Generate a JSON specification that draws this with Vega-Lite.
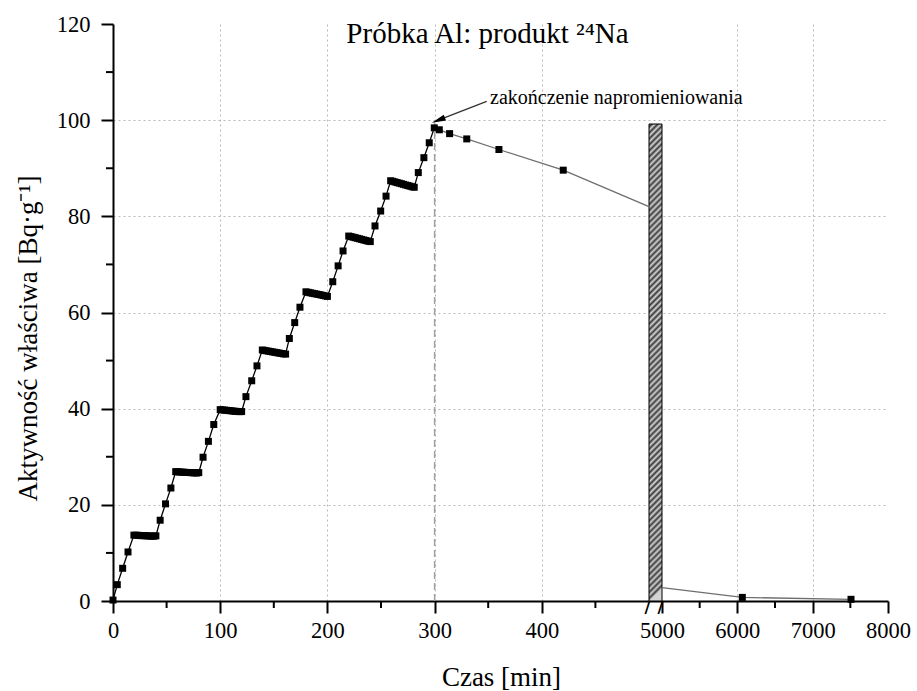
{
  "$schema": "https://vega.github.io/schema/vega-lite/v6.json",
  "width": 775,
  "height": 577,
  "autosize": "none",
  "padding": {"left": 113, "top": 24, "right": 29, "bottom": 90},
  "background": "white",
  "config": {
    "font": "Liberation Serif",
    "view": {"stroke": null},
    "axis": {"labelFont": "Liberation Serif", "titleFont": "Liberation Serif", "titleColor": "#000", "titleFontWeight": "normal", "labelFlush": false, "labelOverlap": false}
  },
  "datasets": {
    "act": [
      {"t": 0, "a": 0.2, "s": "a"}, {"t": 4, "a": 3.4, "s": "a"}, {"t": 9, "a": 6.8, "s": "a"}, {"t": 14, "a": 10.2, "s": "a"}, {"t": 19.5, "a": 13.7, "s": "a"},
      {"t": 22, "a": 13.68, "s": "a"}, {"t": 24, "a": 13.65, "s": "a"}, {"t": 26, "a": 13.6, "s": "a"}, {"t": 28, "a": 13.6, "s": "a"}, {"t": 30, "a": 13.57, "s": "a"}, {"t": 32, "a": 13.55, "s": "a"}, {"t": 34, "a": 13.52, "s": "a"}, {"t": 36, "a": 13.5, "s": "a"}, {"t": 38, "a": 13.48, "s": "a"}, {"t": 40, "a": 13.55, "s": "a"},
      {"t": 44, "a": 16.8, "s": "a"}, {"t": 49, "a": 20.2, "s": "a"}, {"t": 54, "a": 23.5, "s": "a"}, {"t": 58.5, "a": 26.9, "s": "a"},
      {"t": 60, "a": 26.88, "s": "a"}, {"t": 62, "a": 26.84, "s": "a"}, {"t": 64, "a": 26.8, "s": "a"}, {"t": 66, "a": 26.78, "s": "a"}, {"t": 68, "a": 26.75, "s": "a"}, {"t": 70, "a": 26.72, "s": "a"}, {"t": 72, "a": 26.7, "s": "a"}, {"t": 74, "a": 26.68, "s": "a"}, {"t": 76, "a": 26.65, "s": "a"}, {"t": 78, "a": 26.62, "s": "a"}, {"t": 80, "a": 26.7, "s": "a"},
      {"t": 84, "a": 29.9, "s": "a"}, {"t": 89, "a": 33.2, "s": "a"}, {"t": 94, "a": 36.7, "s": "a"}, {"t": 100, "a": 39.8, "s": "a"},
      {"t": 102, "a": 39.75, "s": "a"}, {"t": 104, "a": 39.7, "s": "a"}, {"t": 106, "a": 39.66, "s": "a"}, {"t": 108, "a": 39.6, "s": "a"}, {"t": 110, "a": 39.56, "s": "a"}, {"t": 112, "a": 39.5, "s": "a"}, {"t": 114, "a": 39.46, "s": "a"}, {"t": 116, "a": 39.42, "s": "a"}, {"t": 118, "a": 39.38, "s": "a"}, {"t": 120, "a": 39.4, "s": "a"},
      {"t": 124, "a": 42.5, "s": "a"}, {"t": 129.4, "a": 45.8, "s": "a"}, {"t": 134.3, "a": 48.9, "s": "a"}, {"t": 139.3, "a": 52.2, "s": "a"},
      {"t": 141, "a": 52.12, "s": "a"}, {"t": 143, "a": 52.04, "s": "a"}, {"t": 145, "a": 51.96, "s": "a"}, {"t": 147, "a": 51.88, "s": "a"}, {"t": 149, "a": 51.8, "s": "a"}, {"t": 151, "a": 51.72, "s": "a"}, {"t": 153, "a": 51.64, "s": "a"}, {"t": 155, "a": 51.56, "s": "a"}, {"t": 157, "a": 51.48, "s": "a"}, {"t": 159, "a": 51.4, "s": "a"}, {"t": 161, "a": 51.35, "s": "a"},
      {"t": 164.5, "a": 54.6, "s": "a"}, {"t": 169.5, "a": 57.9, "s": "a"}, {"t": 174.4, "a": 61.1, "s": "a"}, {"t": 180, "a": 64.3, "s": "a"},
      {"t": 182, "a": 64.2, "s": "a"}, {"t": 184, "a": 64.1, "s": "a"}, {"t": 186, "a": 64.0, "s": "a"}, {"t": 188, "a": 63.92, "s": "a"}, {"t": 190, "a": 63.83, "s": "a"}, {"t": 192, "a": 63.74, "s": "a"}, {"t": 194, "a": 63.65, "s": "a"}, {"t": 196, "a": 63.55, "s": "a"}, {"t": 198, "a": 63.45, "s": "a"}, {"t": 200, "a": 63.35, "s": "a"},
      {"t": 205, "a": 66.4, "s": "a"}, {"t": 210, "a": 69.7, "s": "a"}, {"t": 214.6, "a": 72.8, "s": "a"}, {"t": 219.9, "a": 75.9, "s": "a"},
      {"t": 222, "a": 75.78, "s": "a"}, {"t": 224, "a": 75.66, "s": "a"}, {"t": 226, "a": 75.55, "s": "a"}, {"t": 228, "a": 75.43, "s": "a"}, {"t": 230, "a": 75.32, "s": "a"}, {"t": 232, "a": 75.2, "s": "a"}, {"t": 234, "a": 75.08, "s": "a"}, {"t": 236, "a": 74.96, "s": "a"}, {"t": 238, "a": 74.84, "s": "a"}, {"t": 240, "a": 74.75, "s": "a"},
      {"t": 244.4, "a": 78.0, "s": "a"}, {"t": 249.7, "a": 81.1, "s": "a"}, {"t": 254.7, "a": 84.2, "s": "a"}, {"t": 259, "a": 87.4, "s": "a"},
      {"t": 261, "a": 87.28, "s": "a"}, {"t": 263, "a": 87.15, "s": "a"}, {"t": 265, "a": 87.02, "s": "a"}, {"t": 267, "a": 86.9, "s": "a"}, {"t": 269, "a": 86.78, "s": "a"}, {"t": 271, "a": 86.65, "s": "a"}, {"t": 273, "a": 86.52, "s": "a"}, {"t": 275, "a": 86.4, "s": "a"}, {"t": 277, "a": 86.28, "s": "a"}, {"t": 279, "a": 86.15, "s": "a"}, {"t": 281, "a": 86.05, "s": "a"},
      {"t": 284.8, "a": 89.1, "s": "a"}, {"t": 290, "a": 92.2, "s": "a"}, {"t": 295, "a": 95.3, "s": "a"}, {"t": 299.7, "a": 98.4, "s": "a"},
      {"t": 299.7, "a": 98.4, "s": "b", "p": 0}, {"t": 304.4, "a": 98.0, "s": "b"}, {"t": 314, "a": 97.2, "s": "b"}, {"t": 330, "a": 96.1, "s": "b"}, {"t": 360, "a": 93.9, "s": "b"}, {"t": 420, "a": 89.6, "s": "b"}, {"t": 500, "a": 82.0, "s": "b", "p": 0},
      {"t": 5000, "a": 2.8, "s": "c", "p": 0}, {"t": 6066, "a": 0.75, "s": "c"}, {"t": 7509, "a": 0.35, "s": "c"}
    ]
  },
  "data": {"name": "act"},
  "encoding": {
    "x": {"field": "t", "type": "quantitative",
      "scale": {"type": "linear", "domain": [0, 500, 5000, 8000], "range": [0, 536, 549, 775], "nice": false, "zero": false},
      "axis": {"orient": "bottom", "values": [0, 100, 200, 300, 400, 5000, 6000, 7000, 8000], "format": "d", "ticks": true, "tickSize": 12, "tickWidth": 2, "tickColor": "#000", "domainWidth": 2, "domainColor": "#000", "labelColor": "#000", "labelFont": "Liberation Serif", "labelFontSize": 22.5, "labelPadding": 6,
        "grid": true, "gridColor": "#b8b8b8", "gridDash": [2, 3], "gridWidth": 1,
        "gridOpacity": {"condition": {"test": "datum.value == 0 || datum.value == 5000 || datum.value == 8000", "value": 0}, "value": 1},
        "title": "Czas [min]", "titleFont": "Liberation Serif", "titleFontSize": 27, "titleX": 388, "titleY": 84, "titleBaseline": "alphabetic", "titleAlign": "center"}},
    "y": {"field": "a", "type": "quantitative",
      "scale": {"domain": [0, 120], "nice": false, "zero": true},
      "axis": {"orient": "left", "values": [0, 20, 40, 60, 80, 100, 120], "format": "d", "ticks": true, "tickSize": 12, "tickWidth": 2, "tickColor": "#000", "domainWidth": 2, "domainColor": "#000", "labelColor": "#000", "labelFont": "Liberation Serif", "labelFontSize": 22.5, "labelPadding": 11,
        "grid": true, "gridColor": "#b8b8b8", "gridDash": [2, 3], "gridWidth": 1,
        "gridOpacity": {"condition": {"test": "datum.value == 0 || datum.value == 120", "value": 0}, "value": 1},
        "title": "Aktywność właściwa [Bq·g⁻¹]", "titleFont": "Liberation Serif", "titleFontSize": 27, "titleAngle": -90, "titleX": -84.5, "titleY": 314, "titleAlign": "center", "titleBaseline": "middle"}}
  },
  "layer": [
    {
      "data": {"values": [{"t": 300, "a": 0, "a2": 99.5}]},
      "mark": {"type": "rule", "color": "#a0a0a0", "strokeWidth": 1.5, "strokeDash": [7, 4]},
      "encoding": {"y2": {"field": "a2"}}
    },
    {
      "data": {"values": [{"t": 500, "t2": 5000, "a": 0, "a2": 99.2}]},
      "mark": {"type": "rect", "stroke": "#000", "strokeWidth": 1,
        "fill": {"gradient": "linear", "x1": 0, "y1": 0, "x2": 0.0273, "y2": 1, "stops": [
          {"offset": 0, "color": "#d4d4d4"}, {"offset": 0.00625, "color": "#3a3a3a"}, {"offset": 0.0125, "color": "#d4d4d4"}, {"offset": 0.01875, "color": "#3a3a3a"}, {"offset": 0.025, "color": "#d4d4d4"}, {"offset": 0.03125, "color": "#3a3a3a"}, {"offset": 0.0375, "color": "#d4d4d4"}, {"offset": 0.04375, "color": "#3a3a3a"}, {"offset": 0.05, "color": "#d4d4d4"}, {"offset": 0.05625, "color": "#3a3a3a"}, {"offset": 0.0625, "color": "#d4d4d4"}, {"offset": 0.06875, "color": "#3a3a3a"}, {"offset": 0.075, "color": "#d4d4d4"}, {"offset": 0.08125, "color": "#3a3a3a"}, {"offset": 0.0875, "color": "#d4d4d4"}, {"offset": 0.09375, "color": "#3a3a3a"},
          {"offset": 0.1, "color": "#d4d4d4"}, {"offset": 0.10625, "color": "#3a3a3a"}, {"offset": 0.1125, "color": "#d4d4d4"}, {"offset": 0.11875, "color": "#3a3a3a"}, {"offset": 0.125, "color": "#d4d4d4"}, {"offset": 0.13125, "color": "#3a3a3a"}, {"offset": 0.1375, "color": "#d4d4d4"}, {"offset": 0.14375, "color": "#3a3a3a"}, {"offset": 0.15, "color": "#d4d4d4"}, {"offset": 0.15625, "color": "#3a3a3a"}, {"offset": 0.1625, "color": "#d4d4d4"}, {"offset": 0.16875, "color": "#3a3a3a"}, {"offset": 0.175, "color": "#d4d4d4"}, {"offset": 0.18125, "color": "#3a3a3a"}, {"offset": 0.1875, "color": "#d4d4d4"}, {"offset": 0.19375, "color": "#3a3a3a"},
          {"offset": 0.2, "color": "#d4d4d4"}, {"offset": 0.20625, "color": "#3a3a3a"}, {"offset": 0.2125, "color": "#d4d4d4"}, {"offset": 0.21875, "color": "#3a3a3a"}, {"offset": 0.225, "color": "#d4d4d4"}, {"offset": 0.23125, "color": "#3a3a3a"}, {"offset": 0.2375, "color": "#d4d4d4"}, {"offset": 0.24375, "color": "#3a3a3a"}, {"offset": 0.25, "color": "#d4d4d4"}, {"offset": 0.25625, "color": "#3a3a3a"}, {"offset": 0.2625, "color": "#d4d4d4"}, {"offset": 0.26875, "color": "#3a3a3a"}, {"offset": 0.275, "color": "#d4d4d4"}, {"offset": 0.28125, "color": "#3a3a3a"}, {"offset": 0.2875, "color": "#d4d4d4"}, {"offset": 0.29375, "color": "#3a3a3a"},
          {"offset": 0.3, "color": "#d4d4d4"}, {"offset": 0.30625, "color": "#3a3a3a"}, {"offset": 0.3125, "color": "#d4d4d4"}, {"offset": 0.31875, "color": "#3a3a3a"}, {"offset": 0.325, "color": "#d4d4d4"}, {"offset": 0.33125, "color": "#3a3a3a"}, {"offset": 0.3375, "color": "#d4d4d4"}, {"offset": 0.34375, "color": "#3a3a3a"}, {"offset": 0.35, "color": "#d4d4d4"}, {"offset": 0.35625, "color": "#3a3a3a"}, {"offset": 0.3625, "color": "#d4d4d4"}, {"offset": 0.36875, "color": "#3a3a3a"}, {"offset": 0.375, "color": "#d4d4d4"}, {"offset": 0.38125, "color": "#3a3a3a"}, {"offset": 0.3875, "color": "#d4d4d4"}, {"offset": 0.39375, "color": "#3a3a3a"},
          {"offset": 0.4, "color": "#d4d4d4"}, {"offset": 0.40625, "color": "#3a3a3a"}, {"offset": 0.4125, "color": "#d4d4d4"}, {"offset": 0.41875, "color": "#3a3a3a"}, {"offset": 0.425, "color": "#d4d4d4"}, {"offset": 0.43125, "color": "#3a3a3a"}, {"offset": 0.4375, "color": "#d4d4d4"}, {"offset": 0.44375, "color": "#3a3a3a"}, {"offset": 0.45, "color": "#d4d4d4"}, {"offset": 0.45625, "color": "#3a3a3a"}, {"offset": 0.4625, "color": "#d4d4d4"}, {"offset": 0.46875, "color": "#3a3a3a"}, {"offset": 0.475, "color": "#d4d4d4"}, {"offset": 0.48125, "color": "#3a3a3a"}, {"offset": 0.4875, "color": "#d4d4d4"}, {"offset": 0.49375, "color": "#3a3a3a"},
          {"offset": 0.5, "color": "#d4d4d4"}, {"offset": 0.50625, "color": "#3a3a3a"}, {"offset": 0.5125, "color": "#d4d4d4"}, {"offset": 0.51875, "color": "#3a3a3a"}, {"offset": 0.525, "color": "#d4d4d4"}, {"offset": 0.53125, "color": "#3a3a3a"}, {"offset": 0.5375, "color": "#d4d4d4"}, {"offset": 0.54375, "color": "#3a3a3a"}, {"offset": 0.55, "color": "#d4d4d4"}, {"offset": 0.55625, "color": "#3a3a3a"}, {"offset": 0.5625, "color": "#d4d4d4"}, {"offset": 0.56875, "color": "#3a3a3a"}, {"offset": 0.575, "color": "#d4d4d4"}, {"offset": 0.58125, "color": "#3a3a3a"}, {"offset": 0.5875, "color": "#d4d4d4"}, {"offset": 0.59375, "color": "#3a3a3a"},
          {"offset": 0.6, "color": "#d4d4d4"}, {"offset": 0.60625, "color": "#3a3a3a"}, {"offset": 0.6125, "color": "#d4d4d4"}, {"offset": 0.61875, "color": "#3a3a3a"}, {"offset": 0.625, "color": "#d4d4d4"}, {"offset": 0.63125, "color": "#3a3a3a"}, {"offset": 0.6375, "color": "#d4d4d4"}, {"offset": 0.64375, "color": "#3a3a3a"}, {"offset": 0.65, "color": "#d4d4d4"}, {"offset": 0.65625, "color": "#3a3a3a"}, {"offset": 0.6625, "color": "#d4d4d4"}, {"offset": 0.66875, "color": "#3a3a3a"}, {"offset": 0.675, "color": "#d4d4d4"}, {"offset": 0.68125, "color": "#3a3a3a"}, {"offset": 0.6875, "color": "#d4d4d4"}, {"offset": 0.69375, "color": "#3a3a3a"},
          {"offset": 0.7, "color": "#d4d4d4"}, {"offset": 0.70625, "color": "#3a3a3a"}, {"offset": 0.7125, "color": "#d4d4d4"}, {"offset": 0.71875, "color": "#3a3a3a"}, {"offset": 0.725, "color": "#d4d4d4"}, {"offset": 0.73125, "color": "#3a3a3a"}, {"offset": 0.7375, "color": "#d4d4d4"}, {"offset": 0.74375, "color": "#3a3a3a"}, {"offset": 0.75, "color": "#d4d4d4"}, {"offset": 0.75625, "color": "#3a3a3a"}, {"offset": 0.7625, "color": "#d4d4d4"}, {"offset": 0.76875, "color": "#3a3a3a"}, {"offset": 0.775, "color": "#d4d4d4"}, {"offset": 0.78125, "color": "#3a3a3a"}, {"offset": 0.7875, "color": "#d4d4d4"}, {"offset": 0.79375, "color": "#3a3a3a"},
          {"offset": 0.8, "color": "#d4d4d4"}, {"offset": 0.80625, "color": "#3a3a3a"}, {"offset": 0.8125, "color": "#d4d4d4"}, {"offset": 0.81875, "color": "#3a3a3a"}, {"offset": 0.825, "color": "#d4d4d4"}, {"offset": 0.83125, "color": "#3a3a3a"}, {"offset": 0.8375, "color": "#d4d4d4"}, {"offset": 0.84375, "color": "#3a3a3a"}, {"offset": 0.85, "color": "#d4d4d4"}, {"offset": 0.85625, "color": "#3a3a3a"}, {"offset": 0.8625, "color": "#d4d4d4"}, {"offset": 0.86875, "color": "#3a3a3a"}, {"offset": 0.875, "color": "#d4d4d4"}, {"offset": 0.88125, "color": "#3a3a3a"}, {"offset": 0.8875, "color": "#d4d4d4"}, {"offset": 0.89375, "color": "#3a3a3a"},
          {"offset": 0.9, "color": "#d4d4d4"}, {"offset": 0.90625, "color": "#3a3a3a"}, {"offset": 0.9125, "color": "#d4d4d4"}, {"offset": 0.91875, "color": "#3a3a3a"}, {"offset": 0.925, "color": "#d4d4d4"}, {"offset": 0.93125, "color": "#3a3a3a"}, {"offset": 0.9375, "color": "#d4d4d4"}, {"offset": 0.94375, "color": "#3a3a3a"}, {"offset": 0.95, "color": "#d4d4d4"}, {"offset": 0.95625, "color": "#3a3a3a"}, {"offset": 0.9625, "color": "#d4d4d4"}, {"offset": 0.96875, "color": "#3a3a3a"}, {"offset": 0.975, "color": "#d4d4d4"}, {"offset": 0.98125, "color": "#3a3a3a"}, {"offset": 0.9875, "color": "#d4d4d4"}, {"offset": 0.99375, "color": "#3a3a3a"},
          {"offset": 1, "color": "#d4d4d4"}
        ]}},
      "encoding": {"x2": {"field": "t2"}, "y2": {"field": "a2"}}
    },
    {
      "mark": {"type": "line", "strokeWidth": 1.3},
      "encoding": {
        "color": {"field": "s", "type": "nominal", "scale": {"domain": ["a", "b", "c"], "range": ["#000000", "#6e6e6e", "#6e6e6e"]}, "legend": null}
      }
    },
    {
      "transform": [{"filter": "datum.p !== 0"}],
      "mark": {"type": "point", "shape": "square", "filled": true, "size": 49, "color": "#000", "opacity": 1}
    },
    {
      "data": {"values": [{"t": 50, "a": 0}, {"t": 150, "a": 0}, {"t": 250, "a": 0}, {"t": 350, "a": 0}, {"t": 450, "a": 0}, {"t": 5500, "a": 0}, {"t": 6500, "a": 0}, {"t": 7500, "a": 0}]},
      "mark": {"type": "tick", "orient": "vertical", "size": 7, "thickness": 2, "color": "#000", "opacity": 1, "yOffset": 3.5}
    },
    {
      "data": {"values": [{"t": 0, "a": 10}, {"t": 0, "a": 30}, {"t": 0, "a": 50}, {"t": 0, "a": 70}, {"t": 0, "a": 90}, {"t": 0, "a": 110}]},
      "mark": {"type": "tick", "orient": "horizontal", "size": 7, "thickness": 2, "color": "#000", "opacity": 1, "xOffset": -3.5}
    },
    {
      "data": {"values": [{"t": 348.6, "a": 103.9, "t2": 303.5, "a2": 100.0}]},
      "mark": {"type": "rule", "color": "#333", "strokeWidth": 1.3},
      "encoding": {"x2": {"field": "t2"}, "y2": {"field": "a2"}}
    },
    {
      "data": {"values": [{"t": 303.5, "a": 100.0}]},
      "mark": {"type": "point", "shape": "M-1,0L1,-0.45L1,0.45Z", "filled": true, "size": 196, "angle": -21, "color": "#000", "opacity": 1}
    },
    {
      "data": {"values": [{"t": 351.7, "a": 104.6, "label": "zakończenie napromieniowania"}]},
      "mark": {"type": "text", "fontSize": 20, "align": "left", "baseline": "middle", "font": "Liberation Serif", "color": "#000"},
      "encoding": {"text": {"field": "label"}}
    },
    {
      "data": {"values": [{"t": 349.3, "a": 116.06, "label": "Próbka Al: produkt ²⁴Na"}]},
      "mark": {"type": "text", "fontSize": 29, "align": "center", "baseline": "alphabetic", "font": "Liberation Serif", "color": "#000"},
      "encoding": {"text": {"field": "label"}}
    },
    {
      "data": {"values": [{"t": 500, "a": 0, "label": "/"}, {"t": 5000, "a": 0, "label": "/"}]},
      "mark": {"type": "text", "fontSize": 16, "align": "center", "baseline": "middle", "font": "DejaVu Sans", "fontWeight": "bold", "dy": 7, "dx": -1.5, "color": "#000"},
      "encoding": {"text": {"field": "label"}}
    }
  ]
}
